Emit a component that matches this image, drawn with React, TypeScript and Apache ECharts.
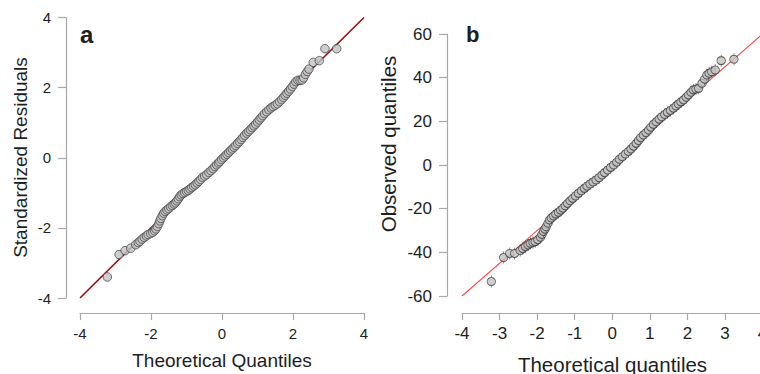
import React, { useEffect, useRef } from "react";
import * as echarts from "echarts";

// Panel a: theoretical quantile vs standardized residual
const qqA: [number, number][] = [
  [-3.23, -3.4],
  [-2.9, -2.76], [-2.73, -2.65], [-2.57, -2.58], [-2.43, -2.48], [-2.36, -2.42], [-2.31, -2.38],
  [-2.25, -2.32], [-2.19, -2.27], [-2.13, -2.23], [-2.08, -2.19], [-2.01, -2.16], [-1.95, -2.13],
  [-1.9, -2.08], [-1.86, -2.03], [-1.82, -1.96], [-1.78, -1.88], [-1.75, -1.8], [-1.72, -1.73],
  [-1.68, -1.65], [-1.64, -1.58], [-1.6, -1.53], [-1.55, -1.49], [-1.5, -1.45], [-1.45, -1.4],
  [-1.4, -1.36], [-1.35, -1.32], [-1.31, -1.28], [-1.27, -1.23], [-1.23, -1.17], [-1.19, -1.11],
  [-1.15, -1.06], [-1.1, -1.02], [-1.05, -0.99], [-1.0, -0.96], [-0.95, -0.93], [-0.9, -0.89],
  [-0.85, -0.85], [-0.8, -0.81], [-0.75, -0.77], [-0.7, -0.72], [-0.65, -0.67], [-0.6, -0.62],
  [-0.55, -0.56], [-0.49, -0.52], [-0.43, -0.48], [-0.37, -0.42], [-0.31, -0.37], [-0.25, -0.31],
  [-0.2, -0.25], [-0.15, -0.2], [-0.1, -0.15], [-0.06, -0.11], [-0.01, -0.05], [0.04, 0.0],
  [0.09, 0.05], [0.14, 0.1], [0.19, 0.15], [0.24, 0.2], [0.29, 0.25], [0.34, 0.3], [0.39, 0.35],
  [0.44, 0.41], [0.49, 0.46], [0.54, 0.52], [0.59, 0.58], [0.64, 0.64], [0.7, 0.7], [0.75, 0.75],
  [0.8, 0.8], [0.85, 0.86], [0.9, 0.91], [0.95, 0.96], [1.0, 1.02], [1.05, 1.08], [1.1, 1.14],
  [1.15, 1.2], [1.2, 1.26], [1.26, 1.31], [1.32, 1.37], [1.38, 1.42], [1.44, 1.46], [1.5, 1.5],
  [1.56, 1.54], [1.62, 1.6], [1.68, 1.66], [1.73, 1.72], [1.78, 1.78], [1.83, 1.84], [1.88, 1.9],
  [1.93, 1.96], [1.98, 2.03], [2.03, 2.1], [2.08, 2.17], [2.14, 2.21], [2.2, 2.21], [2.26, 2.22],
  [2.3, 2.28], [2.35, 2.38], [2.4, 2.46], [2.45, 2.53], [2.57, 2.72], [2.74, 2.77], [2.9, 3.11],
  [3.23, 3.11],
];

// Panel b: theoretical quantile vs observed quantile
const qqB: [number, number][] = [
  [-3.22, -53.4],
  [-2.89, -42.4], [-2.73, -40.5], [-2.6, -40.5], [-2.45, -39.2], [-2.38, -38.3], [-2.31, -37.4],
  [-2.24, -36.6], [-2.18, -35.9], [-2.11, -35.5], [-2.05, -35.1], [-1.98, -34.2], [-1.91, -33.1],
  [-1.87, -31.8], [-1.83, -30.5], [-1.79, -29.4], [-1.76, -28.3], [-1.71, -26.7], [-1.67, -25.2],
  [-1.62, -24.3], [-1.56, -23.4], [-1.5, -22.5], [-1.43, -21.7], [-1.37, -20.7], [-1.31, -19.8],
  [-1.25, -18.7], [-1.19, -17.6], [-1.12, -16.4], [-1.05, -15.3], [-0.98, -14.2], [-0.9, -13.0],
  [-0.82, -11.8], [-0.74, -10.7], [-0.67, -9.7], [-0.59, -8.7], [-0.51, -7.8], [-0.43, -6.9],
  [-0.35, -5.8], [-0.27, -4.6], [-0.2, -3.5], [-0.12, -2.3], [-0.04, -1.1], [0.04, 0.0],
  [0.12, 1.3], [0.19, 2.6], [0.27, 3.8], [0.35, 5.0], [0.43, 6.2], [0.5, 7.3], [0.57, 8.6],
  [0.64, 9.9], [0.7, 11.2], [0.76, 12.5], [0.83, 13.7], [0.9, 14.8], [0.97, 16.0], [1.03, 17.3],
  [1.1, 18.6], [1.17, 19.8], [1.25, 21.0], [1.32, 22.1], [1.4, 23.1], [1.47, 24.1], [1.55, 25.0],
  [1.63, 26.0], [1.7, 27.0], [1.76, 27.9], [1.83, 28.9], [1.9, 29.8], [1.97, 31.0], [2.03, 32.1],
  [2.1, 33.3], [2.16, 34.4], [2.23, 34.8], [2.3, 35.1], [2.39, 37.4], [2.46, 39.3], [2.52, 41.2],
  [2.58, 42.0], [2.65, 42.7], [2.74, 43.5], [2.9, 47.8], [3.24, 48.4],
];

// Reference lines (endpoints)
const lineA: [number, number][] = [[-4, -4], [4, 4]];
const lineB: [number, number][] = [[-4, -60], [4, 60]];

const panelLabels = ["a", "b"];
const xTitles = ["Theoretical Quantiles", "Theoretical quantiles"];
const yTitles = ["Standardized Residuals", "Observed quantiles"];

const FONT = "'Liberation Sans', Arial, Helvetica, sans-serif";
const AXIS_GRAY = "#a8a8a8";
const TEXT = "#1e1e1e";

const symbolB =
  "path://M0,-6L0,-4M0,4L0,6M4,0A4,4,0,1,1,-4,0A4,4,0,1,1,4,0Z";

function axisCommon(fontSize: number, margin: number, tickLen: number) {
  return {
    type: "value" as const,
    axisLine: { show: true, onZero: false, lineStyle: { color: AXIS_GRAY, width: 1.2 } },
    axisTick: { show: true, length: tickLen, lineStyle: { color: AXIS_GRAY, width: 1.2 } },
    axisLabel: { fontSize, color: TEXT, margin, fontFamily: FONT },
    splitLine: { show: false },
  };
}

function txt(text: string, x: number, y: number, fontSize: number, bold = false, rot = 0, align = "center") {
  return {
    type: "text",
    x,
    y,
    rotation: rot,
    silent: true,
    style: {
      text,
      fill: TEXT,
      fontSize,
      fontWeight: bold ? "bold" : "normal",
      fontFamily: FONT,
      textAlign: align,
      align,
      textVerticalAlign: "middle",
      verticalAlign: "middle",
    },
  };
}

export default function App() {
  const ref = useRef<HTMLDivElement>(null);
  useEffect(() => {
    if (!ref.current) return;
    const chart = echarts.init(ref.current, null, { renderer: "svg" });
    const option = {
      animation: false,
      textStyle: { fontFamily: FONT },
      grid: [
        { left: 80, top: 17.5, width: 284, height: 280.5, containLabel: false, outerBoundsMode: "none" },
        { left: 462, top: 34, width: 300.5, height: 262, containLabel: false, outerBoundsMode: "none" },
      ],
      xAxis: [
        { ...axisCommon(15, 13, 7), gridIndex: 0, min: -4, max: 4, interval: 2, offset: 15 },
        { ...axisCommon(17, 12, 7), gridIndex: 1, min: -4, max: 4, interval: 1, offset: 17 },
      ],
      yAxis: [
        { ...axisCommon(15, 15, 8), gridIndex: 0, min: -4, max: 4, interval: 2, offset: 14 },
        { ...axisCommon(17, 15, 8), gridIndex: 1, min: -60, max: 60, interval: 20, offset: 15 },
      ],
      series: [
        {
          type: "line",
          xAxisIndex: 0,
          yAxisIndex: 0,
          data: lineA,
          symbol: "none",
          lineStyle: { color: "#9c0f0f", width: 1.6 },
          silent: true,
          z: 1,
        },
        {
          type: "scatter",
          xAxisIndex: 0,
          yAxisIndex: 0,
          data: qqA,
          symbol: "circle",
          symbolSize: 8.5,
          itemStyle: { color: "#c2c2c2", borderColor: "#3a3a3a", borderWidth: 0.9 },
          silent: true,
          z: 2,
        },
        {
          type: "line",
          xAxisIndex: 1,
          yAxisIndex: 1,
          data: lineB,
          symbol: "none",
          lineStyle: { color: "#ff4a4a", width: 1.1 },
          silent: true,
          z: 1,
        },
        {
          type: "scatter",
          xAxisIndex: 1,
          yAxisIndex: 1,
          data: qqB,
          symbol: symbolB,
          symbolSize: [8.5, 12],
          itemStyle: { color: "#c2c2c2", borderColor: "#3a3a3a", borderWidth: 0.9 },
          silent: true,
          z: 2,
        },
      ],
      graphic: [
        txt(panelLabels[0], 80, 34, 24, true, 0, "left"),
        txt(panelLabels[1], 466, 34, 22, true, 0, "left"),
        txt(xTitles[0], 222, 360, 19),
        txt(xTitles[1], 612.5, 364, 20.5),
        txt(yTitles[0], 20, 157.5, 19, false, Math.PI / 2),
        txt(yTitles[1], 388, 144, 20.5, false, Math.PI / 2),
      ],
    };
    chart.setOption(option as any);
    return () => chart.dispose();
  }, []);
  return (
    <div
      ref={ref}
      style={{ position: "absolute", left: 0, top: 0, width: 760, height: 374, background: "#fff" }}
    />
  );
}
